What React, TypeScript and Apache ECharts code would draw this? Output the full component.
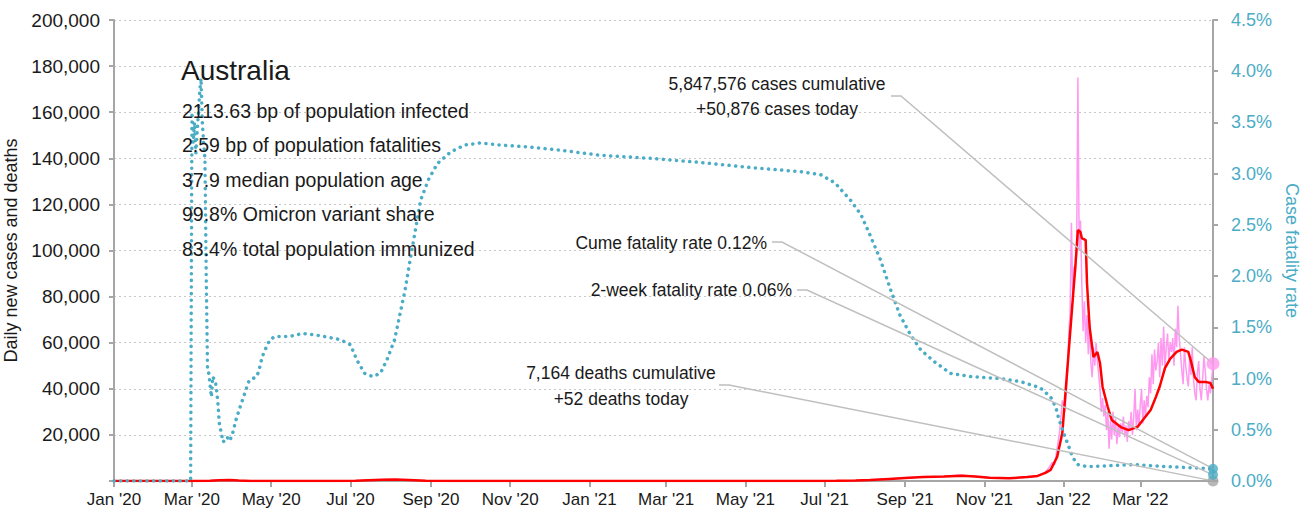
import React, { useEffect, useRef } from "react";
import * as echarts from "echarts";

const START = "2020-01-01";
const END = "2022-04-26";

const monthNames = ["Jan", "Feb", "Mar", "Apr", "May", "Jun", "Jul", "Aug", "Sep", "Oct", "Nov", "Dec"];

// Daily new cases (left axis)
const dailyCases: [string, number][] = [
  ["2020-01-01", 0], ["2020-03-01", 5], ["2020-03-10", 40], ["2020-03-16", 200], ["2020-03-22", 450],
  ["2020-03-26", 380], ["2020-03-30", 320], ["2020-04-05", 120], ["2020-04-12", 60], ["2020-04-25", 15],
  ["2020-06-15", 20], ["2020-07-01", 80], ["2020-07-10", 250], ["2020-07-20", 450], ["2020-07-30", 700],
  ["2020-08-05", 550], ["2020-08-15", 350], ["2020-08-28", 120], ["2020-09-15", 40], ["2020-10-15", 15],
  ["2021-01-01", 25], ["2021-06-25", 20], ["2021-07-10", 80], ["2021-07-25", 250], ["2021-08-05", 450],
  ["2021-08-20", 950], ["2021-09-01", 1400], ["2021-09-15", 1800], ["2021-10-01", 2000], ["2021-10-12", 2600],
  ["2021-10-25", 1900], ["2021-11-05", 1300], ["2021-11-20", 1300], ["2021-12-01", 1500], ["2021-12-10", 2000],
  ["2021-12-15", 3000], ["2021-12-18", 4000], ["2021-12-21", 6000], ["2021-12-23", 8000], ["2021-12-25", 7000],
  ["2021-12-27", 14000], ["2021-12-29", 22000], ["2021-12-31", 35000], ["2022-01-02", 30000], ["2022-01-03", 38000],
  ["2022-01-04", 47000], ["2022-01-05", 64000], ["2022-01-06", 73000], ["2022-01-07", 112000], ["2022-01-08", 80000],
  ["2022-01-09", 93000], ["2022-01-10", 90000], ["2022-01-11", 100000], ["2022-01-12", 175000], ["2022-01-13", 100000],
  ["2022-01-14", 113000], ["2022-01-15", 86000], ["2022-01-16", 65000], ["2022-01-17", 78000], ["2022-01-18", 60000],
  ["2022-01-19", 72000], ["2022-01-20", 55000], ["2022-01-21", 70000], ["2022-01-22", 51000], ["2022-01-23", 45000],
  ["2022-01-24", 58000], ["2022-01-25", 50000], ["2022-01-26", 60000], ["2022-01-27", 52000], ["2022-01-28", 46000],
  ["2022-01-29", 40000], ["2022-01-30", 30000], ["2022-01-31", 36000], ["2022-02-01", 28000], ["2022-02-02", 33000],
  ["2022-02-03", 22000], ["2022-02-04", 30000], ["2022-02-05", 14000], ["2022-02-06", 26000], ["2022-02-07", 18000],
  ["2022-02-08", 30000], ["2022-02-09", 20000], ["2022-02-10", 27000], ["2022-02-11", 16000], ["2022-02-12", 24000],
  ["2022-02-13", 19000], ["2022-02-14", 25000], ["2022-02-15", 21000], ["2022-02-16", 28000], ["2022-02-17", 19000],
  ["2022-02-18", 24000], ["2022-02-19", 17000], ["2022-02-20", 26000], ["2022-02-21", 22000], ["2022-02-22", 30000],
  ["2022-02-23", 20000], ["2022-02-24", 28000], ["2022-02-25", 40000], ["2022-02-26", 22000], ["2022-02-27", 31000],
  ["2022-02-28", 24000], ["2022-03-01", 33000], ["2022-03-02", 40000], ["2022-03-03", 25000], ["2022-03-04", 35000],
  ["2022-03-05", 28000], ["2022-03-06", 37000], ["2022-03-07", 32000], ["2022-03-08", 45000], ["2022-03-09", 38000],
  ["2022-03-10", 55000], ["2022-03-11", 42000], ["2022-03-12", 57000], ["2022-03-13", 48000], ["2022-03-14", 52000],
  ["2022-03-15", 60000], ["2022-03-16", 45000], ["2022-03-17", 62000], ["2022-03-18", 50000], ["2022-03-19", 67000],
  ["2022-03-20", 48000], ["2022-03-21", 58000], ["2022-03-22", 64000], ["2022-03-23", 52000], ["2022-03-24", 60000],
  ["2022-03-25", 56000], ["2022-03-26", 62000], ["2022-03-27", 50000], ["2022-03-28", 66000], ["2022-03-29", 58000],
  ["2022-03-30", 76000], ["2022-03-31", 62000], ["2022-04-01", 55000], ["2022-04-02", 48000], ["2022-04-03", 42000],
  ["2022-04-04", 58000], ["2022-04-05", 50000], ["2022-04-06", 45000], ["2022-04-07", 41000], ["2022-04-08", 53000],
  ["2022-04-09", 46000], ["2022-04-10", 58000], ["2022-04-11", 44000], ["2022-04-12", 38000], ["2022-04-13", 35000],
  ["2022-04-14", 47000], ["2022-04-15", 52000], ["2022-04-16", 40000], ["2022-04-17", 35000], ["2022-04-18", 44000],
  ["2022-04-19", 54000], ["2022-04-20", 48000], ["2022-04-21", 40000], ["2022-04-22", 35000], ["2022-04-23", 42000],
  ["2022-04-24", 38000], ["2022-04-25", 44000], ["2022-04-26", 50876],
];

// 7-day average of new cases (left axis)
const avgCases: [string, number][] = [
  ["2020-01-01", 0], ["2020-03-05", 10], ["2020-03-15", 150], ["2020-03-22", 350], ["2020-03-30", 400],
  ["2020-04-06", 200], ["2020-04-15", 50], ["2020-05-15", 15], ["2020-06-20", 30], ["2020-07-05", 150],
  ["2020-07-15", 350], ["2020-07-25", 550], ["2020-08-05", 600], ["2020-08-15", 400], ["2020-08-28", 150],
  ["2020-09-15", 40], ["2020-10-15", 15], ["2021-01-01", 20], ["2021-06-25", 20], ["2021-07-10", 60],
  ["2021-07-25", 200], ["2021-08-05", 400], ["2021-08-20", 900], ["2021-09-01", 1300], ["2021-09-15", 1700],
  ["2021-10-01", 1900], ["2021-10-15", 2300], ["2021-10-25", 2000], ["2021-11-05", 1400], ["2021-11-20", 1200],
  ["2021-12-04", 1700], ["2021-12-12", 2200], ["2021-12-18", 3500], ["2021-12-22", 4800], ["2021-12-27", 10400],
  ["2021-12-31", 20800], ["2022-01-02", 35100], ["2022-01-05", 56800], ["2022-01-08", 78500], ["2022-01-10", 92800],
  ["2022-01-12", 108900], ["2022-01-14", 108000], ["2022-01-15", 105400], ["2022-01-18", 104500], ["2022-01-19", 85900],
  ["2022-01-21", 66800], ["2022-01-24", 53800], ["2022-01-27", 56000], ["2022-01-29", 51200], ["2022-01-31", 40800],
  ["2022-02-04", 32100], ["2022-02-07", 26500], ["2022-02-14", 23400], ["2022-02-20", 22100], ["2022-02-27", 23500],
  ["2022-03-03", 26500], ["2022-03-09", 30800], ["2022-03-13", 36400], ["2022-03-16", 41000], ["2022-03-20", 49000],
  ["2022-03-24", 53000], ["2022-03-29", 56000], ["2022-04-02", 57000], ["2022-04-07", 56000], ["2022-04-09", 52000],
  ["2022-04-12", 45000], ["2022-04-15", 43000], ["2022-04-20", 43000], ["2022-04-24", 42500], ["2022-04-26", 40000],
];

// Daily deaths (left axis)
const dailyDeaths: [string, number][] = [
  ["2020-01-01", 0], ["2020-04-05", 5], ["2020-08-10", 18], ["2020-10-01", 2], ["2021-09-20", 12],
  ["2021-10-20", 15], ["2021-12-01", 2], ["2022-01-20", 80], ["2022-02-10", 40], ["2022-03-10", 20],
  ["2022-04-26", 52],
];

// Cumulative case fatality rate, % (right axis)
const cfr: [string, number][] = [
  ["2020-01-01", 0], ["2020-02-29", 0], ["2020-03-01", 3.6], ["2020-03-02", 3.3], ["2020-03-03", 3.5],
  ["2020-03-04", 3.2], ["2020-03-05", 3.4], ["2020-03-06", 3.6], ["2020-03-07", 3.8], ["2020-03-08", 3.93],
  ["2020-03-09", 3.5], ["2020-03-10", 3.3], ["2020-03-11", 3.15], ["2020-03-12", 2.0], ["2020-03-13", 1.08],
  ["2020-03-14", 1.05], ["2020-03-16", 0.82], ["2020-03-17", 1.02], ["2020-03-19", 0.97], ["2020-03-20", 0.89],
  ["2020-03-21", 0.76], ["2020-03-22", 0.57], ["2020-03-25", 0.38], ["2020-03-28", 0.43], ["2020-03-30", 0.39],
  ["2020-04-01", 0.45], ["2020-04-04", 0.6], ["2020-04-07", 0.72], ["2020-04-11", 0.87], ["2020-04-14", 0.98],
  ["2020-04-20", 1.02], ["2020-04-22", 1.1], ["2020-04-24", 1.21], ["2020-04-27", 1.3], ["2020-04-30", 1.38],
  ["2020-05-04", 1.41], ["2020-05-15", 1.41], ["2020-05-25", 1.44], ["2020-06-07", 1.42], ["2020-06-23", 1.38],
  ["2020-07-01", 1.33], ["2020-07-06", 1.18], ["2020-07-12", 1.05], ["2020-07-18", 1.02], ["2020-07-24", 1.05],
  ["2020-07-29", 1.18], ["2020-08-04", 1.38], ["2020-08-08", 1.62], ["2020-08-12", 1.86], ["2020-08-16", 2.16],
  ["2020-08-20", 2.45], ["2020-08-24", 2.74], ["2020-08-30", 2.94], ["2020-09-06", 3.1], ["2020-09-16", 3.21],
  ["2020-09-27", 3.28], ["2020-10-09", 3.3], ["2020-10-24", 3.28], ["2020-11-16", 3.26], ["2020-12-09", 3.23],
  ["2021-01-09", 3.18], ["2021-02-17", 3.15], ["2021-03-27", 3.11], ["2021-05-05", 3.06], ["2021-06-12", 3.02],
  ["2021-06-28", 2.99], ["2021-07-09", 2.91], ["2021-07-21", 2.74], ["2021-07-29", 2.6], ["2021-08-05", 2.4],
  ["2021-08-13", 2.16], ["2021-08-21", 1.86], ["2021-08-28", 1.62], ["2021-09-05", 1.43], ["2021-09-13", 1.28],
  ["2021-09-24", 1.16], ["2021-10-06", 1.05], ["2021-10-21", 1.02], ["2021-11-13", 1.0], ["2021-11-29", 0.97],
  ["2021-12-14", 0.91], ["2021-12-22", 0.82], ["2021-12-26", 0.72], ["2021-12-28", 0.62], ["2022-01-01", 0.47],
  ["2022-01-04", 0.37], ["2022-01-08", 0.23], ["2022-01-12", 0.16], ["2022-01-19", 0.14], ["2022-02-24", 0.16],
  ["2022-03-22", 0.14], ["2022-04-26", 0.12],
];

const lastCases = 50876;
const lastDeaths = 52;
const cumeCfr = 0.12;
const twoWeekCfr = 0.06;

const countryName = "Australia";
const infoLines = [
  "2113.63 bp of population infected",
  "2.59 bp of population fatalities",
  "37.9 median population age",
  "99.8% Omicron variant share",
  "83.4% total population immunized",
];
const casesNote = ["5,847,576 cases cumulative", "+50,876 cases today"];
const cumeNote = "Cume fatality rate 0.12%";
const twoWeekNote = "2-week fatality rate 0.06%";
const deathsNote = ["7,164 deaths cumulative", "+52 deaths today"];

const leftAxisName = "Daily new cases and deaths";
const rightAxisName = "Case fatality rate";

const FONT = "'Liberation Sans', Arial, Helvetica, sans-serif";
const BLUE = "#4BACC6";
const PINK = "#FF99F0";
const RED = "#FF0000";
const GRAY = "#A6A6A6";
const LEADER = "#BFBFBF";

function buildDays(): string[] {
  const out: string[] = [];
  const d = new Date(START + "T00:00:00Z");
  const end = new Date(END + "T00:00:00Z").getTime();
  while (d.getTime() <= end) {
    out.push(d.toISOString().slice(0, 10));
    d.setUTCDate(d.getUTCDate() + 1);
  }
  return out;
}

const isLabelDay = (v: string) => {
  const m = parseInt(v.slice(5, 7), 10);
  return v.slice(8, 10) === "01" && m % 2 === 1;
};

export default function App() {
  const ref = useRef<HTMLDivElement>(null);
  useEffect(() => {
    if (!ref.current) return;
    const chart = echarts.init(ref.current, undefined, { renderer: "svg" });
    const days = buildDays();
    const last = days[days.length - 1];
    chart.setOption({
      animation: false,
      textStyle: { fontFamily: FONT },
      grid: { left: 114, right: 98, top: 20, bottom: 37, containLabel: false, outerBoundsMode: "none" },
      xAxis: {
        type: "category",
        data: days,
        boundaryGap: false,
        axisLine: { show: true, lineStyle: { color: GRAY, width: 2 } },
        axisTick: {
          show: true,
          length: 6,
          interval: (_i: number, v: string) => isLabelDay(v),
          lineStyle: { color: GRAY, width: 2 },
        },
        axisLabel: {
          interval: (_i: number, v: string) => isLabelDay(v),
          formatter: (v: string) => `${monthNames[parseInt(v.slice(5, 7), 10) - 1]} '${v.slice(2, 4)}`,
          color: "#1a1a1a",
          fontSize: 17,
          fontFamily: FONT,
          margin: 10,
        },
        splitLine: { show: false },
      },
      yAxis: [
        {
          type: "value",
          min: 0,
          max: 200000,
          interval: 20000,
          position: "left",
          name: leftAxisName,
          nameLocation: "middle",
          nameGap: 81,
          nameTextStyle: { color: "#1a1a1a", fontSize: 18, fontFamily: FONT },
          axisLine: { show: true, lineStyle: { color: GRAY, width: 2 } },
          axisTick: { show: true, length: 5, lineStyle: { color: GRAY, width: 2 } },
          axisLabel: {
            formatter: (v: number) => (v === 0 ? "" : v.toLocaleString("en-US")),
            color: "#1a1a1a",
            fontSize: 19,
            fontFamily: FONT,
            margin: 14,
          },
          splitLine: { show: true, lineStyle: { color: "#C8C8C8", type: [2, 3], width: 1 } },
        },
        {
          type: "value",
          min: 0,
          max: 4.5,
          interval: 0.5,
          position: "right",
          name: rightAxisName,
          nameLocation: "middle",
          nameRotate: -90,
          nameGap: 66,
          nameTextStyle: { color: BLUE, fontSize: 18, fontFamily: FONT },
          axisLine: { show: true, lineStyle: { color: GRAY, width: 2 } },
          axisTick: { show: true, length: 5, lineStyle: { color: GRAY, width: 2 } },
          axisLabel: {
            formatter: (v: number) => v.toFixed(1) + "%",
            color: BLUE,
            fontSize: 18,
            fontFamily: FONT,
            margin: 18,
          },
          splitLine: { show: false },
        },
      ],
      series: [
        {
          type: "line",
          name: "Daily cases",
          data: dailyCases,
          showSymbol: false,
          lineStyle: { color: PINK, width: 1.5 },
          z: 2,
        },
        {
          type: "line",
          name: "Daily deaths",
          data: dailyDeaths,
          showSymbol: false,
          lineStyle: { color: GRAY, width: 1.5 },
          z: 2,
        },
        {
          type: "line",
          name: "7-day average cases",
          data: avgCases,
          showSymbol: false,
          lineStyle: { color: RED, width: 2.5 },
          z: 3,
        },
        {
          type: "line",
          name: "Case fatality rate",
          yAxisIndex: 1,
          data: cfr,
          showSymbol: false,
          lineStyle: { color: BLUE, width: 3.5, type: [0.1, 6.5], cap: "round" },
          z: 4,
        },
        {
          type: "scatter",
          data: [[last, lastCases]],
          symbolSize: 13,
          itemStyle: { color: PINK },
          clip: false,
          z: 10,
        },
        {
          type: "scatter",
          data: [[last, lastDeaths]],
          symbolSize: 11,
          itemStyle: { color: GRAY },
          clip: false,
          z: 10,
        },
        {
          type: "scatter",
          yAxisIndex: 1,
          data: [[last, cumeCfr], [last, twoWeekCfr]],
          symbolSize: 10,
          itemStyle: { color: BLUE },
          clip: false,
          z: 11,
        },
      ],
    });

    const idx = days.length - 1;
    const pCases = chart.convertToPixel({ xAxisIndex: 0, yAxisIndex: 0 }, [idx, lastCases]) as number[];
    const pDeaths = chart.convertToPixel({ xAxisIndex: 0, yAxisIndex: 0 }, [idx, lastDeaths]) as number[];
    const pCume = chart.convertToPixel({ xAxisIndex: 0, yAxisIndex: 1 }, [idx, cumeCfr]) as number[];
    const pTwo = chart.convertToPixel({ xAxisIndex: 0, yAxisIndex: 1 }, [idx, twoWeekCfr]) as number[];

    const txt = (text: string, x: number, y: number, size: number, align = "left") => ({
      type: "text",
      x,
      y,
      z: 20,
      silent: true,
      style: { text, fill: "#1a1a1a", font: `${size}px ${FONT}`, align, verticalAlign: "middle" },
    });
    const leader = (x: number, y: number, end: number[]) => ({
      type: "polyline",
      z: 5,
      silent: true,
      shape: { points: [[x, y], [x + 10, y], [end[0], end[1]]] },
      style: { stroke: LEADER, lineWidth: 1.5, fill: null },
    });

    chart.setOption({
      graphic: [
        txt(countryName, 181, 70, 28),
        ...infoLines.map((t, i) => txt(t, 182, 110.5 + i * 34.6, 19.5)),
        txt(casesNote[0], 777, 84, 17.5, "center"),
        txt(casesNote[1], 777, 109, 17.5, "center"),
        txt(cumeNote, 767, 243, 17.5, "right"),
        txt(twoWeekNote, 792, 290, 17.5, "right"),
        txt(deathsNote[0], 621, 373, 17.5, "center"),
        txt(deathsNote[1], 621, 399, 17.5, "center"),
        leader(891, 96, pCases),
        leader(772, 242, pCume),
        leader(797, 290, pTwo),
        leader(719, 385, pDeaths),
      ],
    });

    return () => chart.dispose();
  }, []);
  return (
    <div
      ref={ref}
      style={{ position: "absolute", left: 0, top: 0, width: 1311, height: 518 }}
    />
  );
}
